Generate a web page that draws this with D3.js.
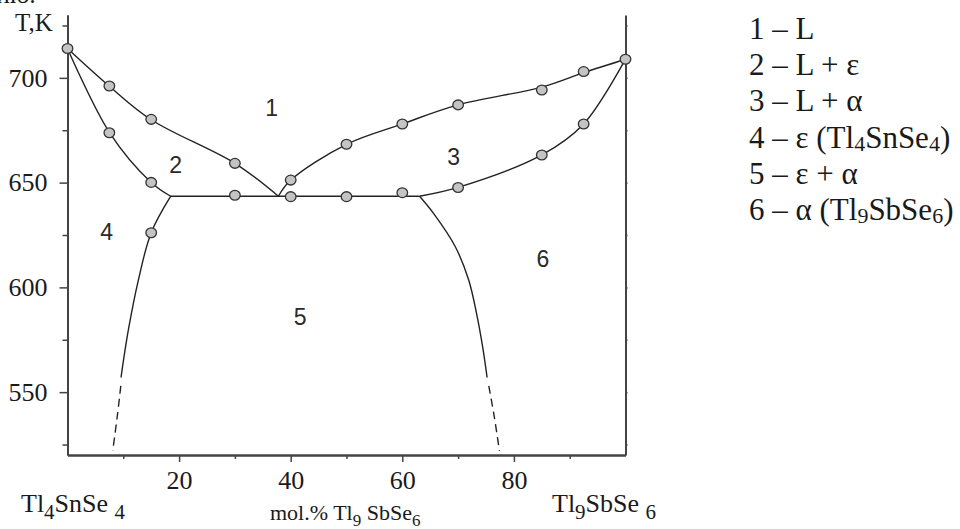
<html>
<head>
<script src="https://d3js.org/d3.v7.min.js"></script>
</head>
<body style="margin:0;background:#fff">
<svg id="diagram" width="960" height="529"></svg>
<style>
  text { font-family: "Liberation Serif", "Times New Roman", serif; fill: #1a1a1a; }
  .phase { font-family: "Liberation Sans", Arial, sans-serif; fill: #2a2a2a; }
</style>
<script>
// composition, mol.% Tl9SbSe6  /  temperature, K
const tMajor = [550, 600, 650, 700]
const tMinor = [525, 575, 625, 675, 725]
const xMajor = [20, 40, 60, 80]
const xMinor = [10, 30, 50, 70, 90]

const liquidusLeft  = [[0, 714], [7.5, 696], [15, 680], [30, 659.2], [37.8, 643.5]]
const solidusLeft   = [[0, 714], [7.5, 674], [15, 650.1], [18.5, 643.5]]
const solvusLeft    = [[18.5, 643.5], [15, 626.1], [12.7, 603.5], [10.9, 579.6], [9.8, 561], [9.6, 557]]
const solvusLeftExt = [[9.55, 553], [8.9, 538], [8.1, 522]]
const eutectic      = [[18.5, 643.5], [63.1, 643.5]]
const liquidusRight = [[37.8, 643.5], [40, 651.2], [50, 668.3], [60, 678], [70, 687.1], [85, 695.6], [92.5, 702.5], [100, 708.9]]
const solidusRight  = [[63.1, 643.5], [70, 647.7], [85, 663.2], [92.5, 678], [100, 708.9]]
const solvusRight   = [[63.1, 643.5], [65.6, 635.3], [69.5, 619.4], [71.9, 603.5], [73.3, 587.6], [74.4, 571.6], [75.2, 557]]
const solvusRightExt = [[75.5, 553], [76.5, 538], [77.4, 522]]

const points = [
  [0, 714], [7.5, 696.1], [15, 680.2], [30, 659.2],
  [7.5, 673.8], [15, 650.1], [15, 626.1],
  [30, 644], [40, 643.3], [50, 643.3], [60, 645.2],
  [40, 651.2], [50, 668.3], [60, 678], [70, 687.1], [85, 694.2], [92.5, 703], [100, 708.9],
  [70, 647.7], [85, 663.2], [92.5, 678]
]

const phaseIds = ['1', '2', '3', '4', '5', '6']
const phaseAt  = [[36.6, 685.6], [19.4, 658.4], [69.2, 662.4], [7.0, 626.8], [41.7, 586.0], [85.2, 613.5]]

const legendNum  = ['1', '2', '3', '4', '5', '6']
const legendMain = [['L'], ['L + ε'], ['L + α'], ['ε (Tl', '4', 'SnSe', '4', ')'], ['ε + α'], ['α (Tl', '9', 'SbSe', '6', ')']]

let svg = d3.select('svg#diagram')

let X = d3.scaleLinear().domain([0, 100]).range([67.5, 625.5])
let Y = d3.scaleLinear().domain([520, 730]).range([455, 15])

const axisColor = '#444'

// left axis
let yMin = svg.append('g').attr('transform', `translate(${X(0)},0)`)
  .call(d3.axisLeft(Y).tickValues(tMinor).tickSize(5).tickSizeOuter(0).tickFormat(''))
let yMaj = svg.append('g').attr('transform', `translate(${X(0)},0)`)
  .call(d3.axisLeft(Y).tickValues(tMajor).tickSize(8).tickSizeOuter(0).tickPadding(12))
yMaj.selectAll('text').attr('font-size', '26px').attr('font-family', 'Liberation Serif').attr('fill', '#1a1a1a')

// right axis
let yR = svg.append('g').attr('transform', `translate(${X(100)},0)`)
  .call(d3.axisRight(Y).tickValues(tMajor.concat(tMinor)).tickSize(2).tickSizeOuter(0).tickFormat(''))

// bottom axis
let xMin = svg.append('g').attr('transform', `translate(0,${Y(520)})`)
  .call(d3.axisBottom(X).tickValues(xMinor).tickSize(4).tickSizeOuter(0).tickFormat(''))
let xMaj = svg.append('g').attr('transform', `translate(0,${Y(520)})`)
  .call(d3.axisBottom(X).tickValues(xMajor).tickSize(7).tickSizeOuter(0).tickPadding(9))
xMaj.selectAll('text').attr('font-size', '26px').attr('font-family', 'Liberation Serif').attr('fill', '#1a1a1a')

svg.selectAll('.domain').attr('stroke', axisColor).attr('stroke-width', 2)
svg.selectAll('.tick line').attr('stroke', axisColor).attr('stroke-width', 1.5)

// curves
let line = d3.line().x(d => X(d[0])).y(d => Y(d[1])).curve(d3.curveCatmullRom.alpha(0.5))
let straight = d3.line().x(d => X(d[0])).y(d => Y(d[1]))

let curves = [liquidusLeft, solidusLeft, solvusLeft, liquidusRight, solidusRight, solvusRight]
svg.append('g').selectAll('path.curve')
  .data(curves)
  .join('path')
  .attr('class', 'curve')
  .attr('d', line)
  .attr('fill', 'none')
  .attr('stroke', '#222')
  .attr('stroke-width', 1.4)

svg.append('path').attr('d', straight(eutectic))
  .attr('fill', 'none').attr('stroke', '#222').attr('stroke-width', 1.4)

svg.append('g').selectAll('path.ext')
  .data([solvusLeftExt, solvusRightExt])
  .join('path')
  .attr('class', 'ext')
  .attr('d', line)
  .attr('fill', 'none')
  .attr('stroke', '#222')
  .attr('stroke-width', 1.4)
  .attr('stroke-dasharray', '8,5')

// experimental points
svg.append('g').selectAll('ellipse')
  .data(points)
  .join('ellipse')
  .attr('cx', d => X(d[0]))
  .attr('cy', d => Y(d[1]))
  .attr('rx', 5.3)
  .attr('ry', 4.9)
  .attr('fill', '#c4c4c4')
  .attr('stroke', '#333')
  .attr('stroke-width', 1.3)

// phase field numbers
svg.append('g').selectAll('text.phase')
  .data(phaseIds)
  .join('text')
  .attr('class', 'phase')
  .attr('x', (d, i) => X(phaseAt[i][0]))
  .attr('y', (d, i) => Y(phaseAt[i][1]))
  .attr('text-anchor', 'middle')
  .attr('dy', '0.36em')
  .attr('font-size', '23px')
  .text(d => d)

// axis titles
svg.append('text').attr('x', -4).attr('y', 3).attr('font-size', '26px').text('ию.')
svg.append('text').attr('x', 15).attr('y', 31).attr('font-size', '25px').text('T,K')

// parts: [text, isSubscript]
function formula(x, y, size, subSize, shift, parts) {
  let t = svg.append('text').attr('x', x).attr('y', y).attr('font-size', size + 'px')
  let low = false
  parts.forEach(p => {
    let s = t.append('tspan').text(p[0])
    if (p[1]) {
      s.attr('font-size', subSize + 'px')
      if (!low) s.attr('dy', shift)
      low = true
    } else if (low) {
      s.attr('dy', -shift)
      low = false
    }
  })
  return t
}
formula(21, 512, 26, 21, 7, [['Tl'], ['4', 1], ['SnSe'], [' '], ['4', 1]])
formula(552, 512, 26, 21, 7, [['Tl'], ['9', 1], ['SbSe'], [' '], ['6', 1]])
formula(270, 520, 22, 17, 6, [['mol.% Tl'], ['9', 1], [' SbSe'], ['6', 1]])

// legend
let leg = svg.append('g')
leg.selectAll('text')
  .data(legendNum)
  .join('text')
  .attr('x', 749)
  .attr('y', (d, i) => 39 + i * 36.2)
  .attr('font-size', '31px')
  .each(function (d, i) {
    let t = d3.select(this)
    t.append('tspan').text(d + ' – ' + legendMain[i][0])
    legendMain[i].slice(1).forEach((p, k) => {
      let s = t.append('tspan').text(p)
      if (k % 2 === 0) s.attr('font-size', '22px').attr('dy', 3)
      else s.attr('dy', -3)
    })
  })
</script>
</body>
</html>
